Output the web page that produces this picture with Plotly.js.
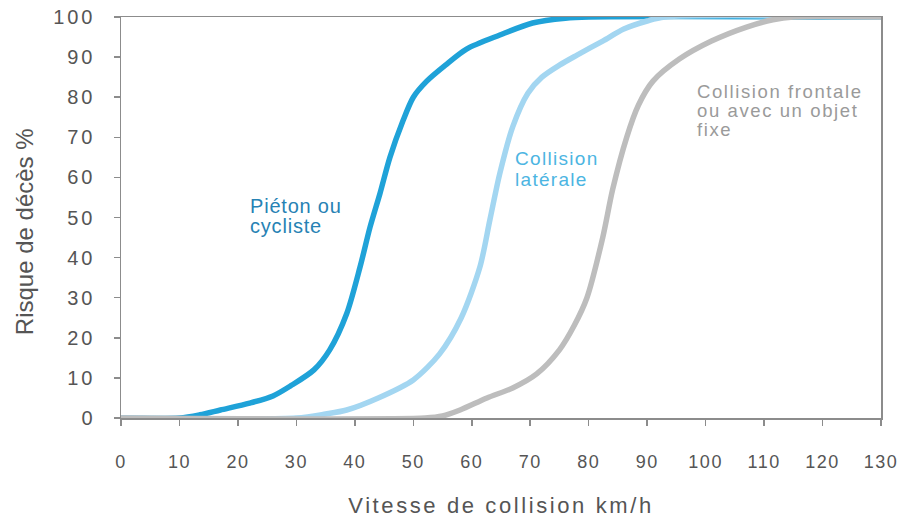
<!DOCTYPE html>
<html>
<head>
<meta charset="utf-8">
<script src="https://cdn.plot.ly/plotly-3.0.1.min.js"></script>
<style>
html,body{margin:0;padding:0;background:#fff;}
#chart{width:902px;height:523px;}
#chart .xtick text{letter-spacing:1.5px;}
#chart .ytick text{letter-spacing:3px;}
#chart text.xtitle{letter-spacing:2.6px;}
#chart .annotation[data-index="0"] text, #chart .annotation[data-index="1"] text{letter-spacing:0.8px;}
#chart .annotation[data-index="2"] text, #chart .annotation[data-index="3"] text{letter-spacing:1.3px;}
#chart .annotation[data-index="4"] text, #chart .annotation[data-index="5"] text, #chart .annotation[data-index="6"] text{letter-spacing:1.6px;}
</style>
</head>
<body>
<div id="chart"></div>
<script>
// Pedestrian / cyclist
const speedPieton = [0, 10, 13.5, 17, 22, 26, 29, 33, 35.7, 38.6, 40.9, 42.6, 44.3, 46, 48.2, 50, 52.3, 55.5, 59.1, 64.8, 70.4, 76, 80, 130];
const riskPieton  = [0, 0, 0.8, 2, 3.7, 5.5, 8, 12, 17, 26, 37.7, 47.6, 56, 65, 74, 80, 84, 88, 92, 95.5, 98.5, 99.7, 100, 100];
// Side collision
const speedLaterale = [0, 30, 35, 38.6, 44, 50, 54.5, 58.2, 61.4, 63.1, 64.8, 67, 69.6, 72, 75, 78, 82.4, 86, 90, 93, 130];
const riskLaterale  = [0, 0, 1, 2, 5, 9.5, 16, 25, 37.7, 49.4, 61, 72.6, 81, 85, 88, 90.5, 94, 97, 99, 100, 100];
// Frontal collision / fixed object
const speedFrontale = [0, 52, 55, 58, 62.6, 67, 71.1, 75, 77.5, 79.7, 82.4, 84.1, 86.5, 88.5, 91, 95.5, 101, 107, 111.5, 115, 130];
const riskFrontale  = [0, 0, 0.5, 2, 5, 7.5, 11, 17, 23, 30, 45, 57, 70, 78, 84, 89.5, 94, 97.5, 99.3, 100, 100];

const xTicks = [0,10,20,30,40,50,60,70,80,90,100,110,120,130];
const yTicks = [0,10,20,30,40,50,60,70,80,90,100];

const labelPieton   = ["Piéton ou", "cycliste"];
const labelLaterale = ["Collision", "latérale"];
const labelFrontale = ["Collision frontale", "ou avec un objet", "fixe"];
const yTitle = "Risque de décès %";
const xTitle = "Vitesse de collision km/h";

const FONT = "Liberation Sans, Arial, Helvetica, sans-serif";

const traces = [
  {x: speedPieton, y: riskPieton, mode: "lines", line: {color: "#1fa2d8", width: 5.5, shape: "spline", smoothing: 0.8}, hoverinfo: "none"},
  {x: speedLaterale, y: riskLaterale, mode: "lines", line: {color: "#a3d6f1", width: 5.5, shape: "spline", smoothing: 0.8}, hoverinfo: "none"},
  {x: speedFrontale, y: riskFrontale, mode: "lines", line: {color: "#bdbdbd", width: 5.5, shape: "spline", smoothing: 0.8}, hoverinfo: "none"}
];

function lines(texts, x, yStart, step, size, color) {
  return texts.map((t, i) => ({
    x: x, y: yStart - i * step, xref: "x", yref: "y", text: t, showarrow: false,
    xanchor: "left", yanchor: "middle", align: "left",
    font: {size: size, color: color, family: FONT}
  }));
}

const annotations = []
  .concat(lines(labelPieton, 21.8, 52.9, 5.0, 20, "#2782b4"))
  .concat(lines(labelLaterale, 67.0, 64.6, 5.0, 19, "#4cb5e2"))
  .concat(lines(labelFrontale, 98.2, 81.4, 4.75, 18.5, "#9a9a9a"));

annotations.push({
  x: -0.126, y: 0.464, xref: "paper", yref: "paper", text: yTitle, showarrow: false,
  textangle: -90, xanchor: "center", yanchor: "middle",
  font: {size: 24, color: "#555555", family: FONT}
});

const layout = {
  width: 902, height: 523,
  margin: {l: 121, r: 21, t: 17, b: 105},
  paper_bgcolor: "#ffffff", plot_bgcolor: "#ffffff",
  showlegend: false,
  font: {family: FONT, color: "#555555"},
  xaxis: {
    range: [0, 130], tickvals: xTicks, ticktext: xTicks.map(String),
    showgrid: false, zeroline: false, showline: true, linecolor: "#8c8c8c", linewidth: 1.5,
    mirror: true, ticks: "outside", ticklen: 6, tickcolor: "#8c8c8c", tickwidth: 1.5,
    tickfont: {size: 18, color: "#555555"}, ticklabelstandoff: 21,
    title: {text: xTitle, font: {size: 22, color: "#555555"}, standoff: 26}
  },
  yaxis: {
    range: [0, 100], tickvals: yTicks, ticktext: yTicks.map(String),
    showgrid: false, zeroline: false, showline: true, linecolor: "#8c8c8c", linewidth: 1.5,
    mirror: true, ticks: "outside", ticklen: 6, tickcolor: "#8c8c8c", tickwidth: 1.5,
    tickfont: {size: 20, color: "#555555"}, ticklabelstandoff: 14
  },
  annotations: annotations
};

Plotly.newPlot("chart", traces, layout, {displayModeBar: false, staticPlot: true});
</script>
</body>
</html>
